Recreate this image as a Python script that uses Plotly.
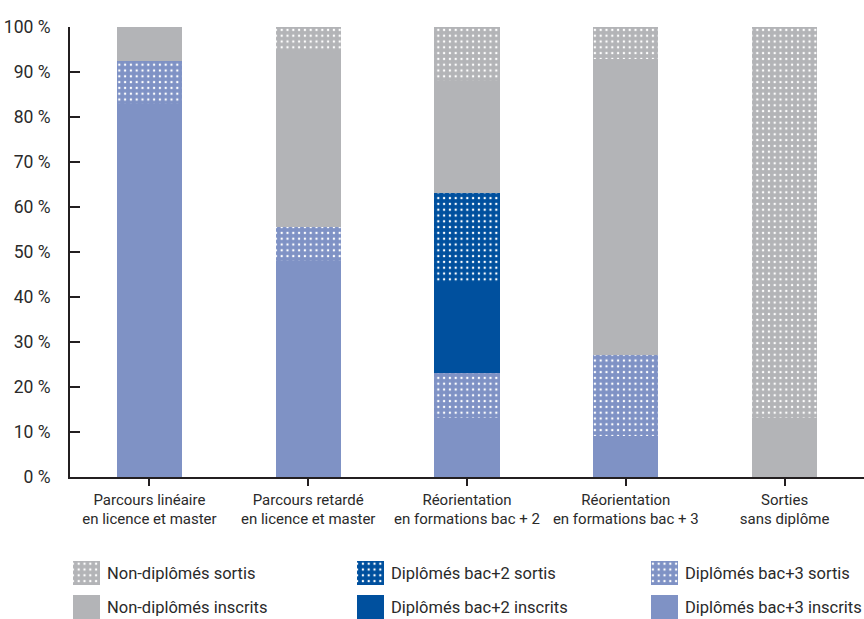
import plotly.graph_objects as go

# Career paths (x categories)
categories = [
    "Parcours linéaire<br>en licence et master",
    "Parcours retardé<br>en licence et master",
    "Réorientation<br>en formations bac + 2",
    "Réorientation<br>en formations bac + 3",
    "Sorties<br>sans diplôme",
]

# Shares in %, one list per status (stacked from bottom to top)
bac3_inscrits = [83, 48, 13, 9, 0]
bac3_sortis = [9.5, 7.5, 10, 18, 0]
bac2_inscrits = [0, 0, 20, 0, 0]
bac2_sortis = [0, 0, 20, 0, 0]
nondip_inscrits = [7.5, 39.5, 25, 66, 13]
nondip_sortis = [0, 5, 12, 7, 87]

y_ticks = [0, 10, 20, 30, 40, 50, 60, 70, 80, 90, 100]
y_tick_labels = [f"{v} %" for v in y_ticks]

PERI = "#7f92c5"
BLUE = "#00509e"
GREY = "#b3b4b7"
FONT = "Roboto, Liberation Sans, sans-serif"
TXT = "#2a2a2a"
AXIS = "#231f20"

series = [
    ("Diplômés bac+3 inscrits", bac3_inscrits, PERI, False),
    ("Diplômés bac+3 sortis", bac3_sortis, PERI, True),
    ("Diplômés bac+2 inscrits", bac2_inscrits, BLUE, False),
    ("Diplômés bac+2 sortis", bac2_sortis, BLUE, True),
    ("Non-diplômés inscrits", nondip_inscrits, GREY, False),
    ("Non-diplômés sortis", nondip_sortis, GREY, True),
]


def fill(color, dotted):
    m = dict(color=color, line=dict(width=0))
    if dotted:
        m["pattern"] = dict(shape=".", fgcolor="white", bgcolor=color,
                            size=5.8, solidity=0.14, fillmode="replace")
    return m


fig = go.Figure()
for name, vals, color, dotted in series:
    fig.add_trace(go.Bar(
        x=list(range(len(categories))), y=vals, name=name,
        marker=fill(color, dotted), width=0.41, showlegend=False,
        hoverinfo="name+y",
    ))

# Legend block: swatches drawn as small bars on a helper axis (pixel-like units)
legend_rows = [
    ["Non-diplômés sortis", "Diplômés bac+2 sortis", "Diplômés bac+3 sortis"],
    ["Non-diplômés inscrits", "Diplômés bac+2 inscrits", "Diplômés bac+3 inscrits"],
]
legend_col_x = [16.5, 300.5, 594.5]
legend_row_base = [6, 40]
swatch_w, swatch_h = 27, 24
style = {name: (color, dotted) for name, _, color, dotted in series}

for r, row in enumerate(legend_rows):
    for c, name in enumerate(row):
        color, dotted = style[name]
        fig.add_trace(go.Bar(
            x=[legend_col_x[c]], y=[swatch_h], base=[legend_row_base[r]],
            width=swatch_w, marker=fill(color, dotted),
            xaxis="x2", yaxis="y2", showlegend=False, hoverinfo="skip",
        ))
        fig.add_annotation(
            x=legend_col_x[c] + swatch_w / 2 + 5, y=legend_row_base[r] + swatch_h / 2,
            xref="x2", yref="y2", text=name, showarrow=False,
            xanchor="left", yanchor="middle",
            font=dict(family=FONT, size=16.5, color=TXT),
        )

fig.update_layout(
    width=864, height=619,
    margin=dict(l=70, r=0, t=27, b=0, pad=0),
    paper_bgcolor="white", plot_bgcolor="white",
    barmode="stack", bargap=0,
    font=dict(family=FONT, size=15, color=TXT),
    xaxis=dict(
        tickmode="array", tickvals=list(range(len(categories))), ticktext=categories,
        range=[-0.5, 4.5], tickson="boundaries", ticks="outside", ticklen=7,
        tickwidth=2, tickcolor=AXIS, showline=True, linecolor=AXIS,
        linewidth=2, showgrid=False, zeroline=False, anchor="y",
        automargin=False, ticklabelstandoff=1, tickangle=0,
        tickfont=dict(family=FONT, size=15, color=TXT),
    ),
    yaxis=dict(
        domain=[0.2399, 1], range=[0, 100], tickmode="array",
        tickvals=y_ticks, ticktext=y_tick_labels, ticks="inside", ticklen=10,
        tickwidth=2, tickcolor=AXIS, showline=True, linecolor=AXIS,
        linewidth=2, showgrid=False, zeroline=False, ticklabelstandoff=14,
        automargin=False,
        tickfont=dict(family=FONT, size=17.5, color=TXT),
    ),
    xaxis2=dict(domain=[0, 1], range=[0, 794], visible=False, anchor="y2",
                automargin=False),
    yaxis2=dict(domain=[0, 64 / 592], range=[64, 0], visible=False, anchor="x2",
                automargin=False),
)

fig.write_html("out.html")
